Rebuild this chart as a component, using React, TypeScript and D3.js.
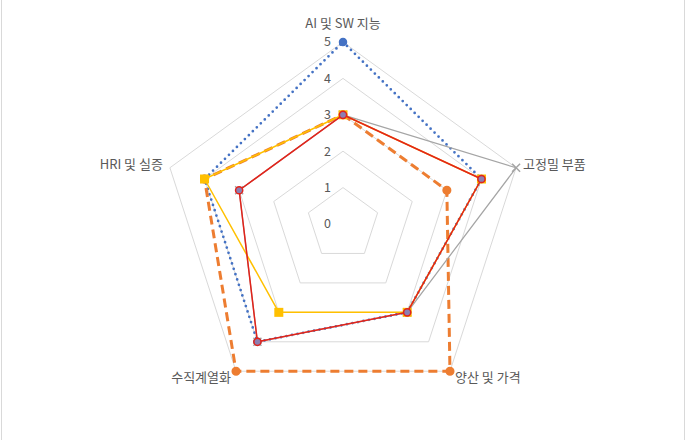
import React from "react";
import * as d3 from "d3";

const categories = ["AI 및 SW 지능", "고정밀 부품", "양산 및 가격", "수직계열화", "HRI 및 실증"];
const ticks = [0, 1, 2, 3, 4, 5];
const seriesBlue = [5, 4, 3, 4, 4];
const seriesOrange = [3, 3, 5, 5, 4];
const seriesGray = [3, 5, 3, 4, 3];
const seriesYellow = [3, 4, 3, 3, 4];
const seriesRed = [3, 4, 3, 4, 3];

const W = 686;
const H = 440;
const cx = 343;
const cy = 224;
const R = 182;
const FONT = "'Noto Sans CJK KR', 'Noto Sans', sans-serif";

export default function App() {
  const r = d3.scaleLinear().domain([0, 5]).range([0, R]);
  const n = categories.length;
  const ang = (i: number) => (i * 2 * Math.PI) / n;
  const pt = (i: number, v: number): [number, number] => {
    const a = ang(i) - Math.PI / 2;
    return [cx + r(v) * Math.cos(a), cy + r(v) * Math.sin(a)];
  };
  const radial = d3
    .lineRadial<number>()
    .angle((_d, i) => ang(i))
    .radius((d) => r(d))
    .curve(d3.curveLinearClosed);

  const rings = ticks.filter((t) => t > 0).map((t) => radial(categories.map(() => t)) as string);

  const series = [
    { vals: seriesBlue, color: "#4472C4", width: 2.75, dash: "0 5.6", cap: "round", marker: "circle", mfill: "#4472C4", mstroke: "#4472C4", mr: 3.5 },
    { vals: seriesOrange, color: "#ED7D31", width: 3, dash: "9 5", cap: "butt", marker: "circle", mfill: "#ED7D31", mstroke: "#ED7D31", mr: 3.8 },
    { vals: seriesGray, color: "#A5A5A5", width: 1.25, dash: null, cap: "butt", marker: "x", mfill: "none", mstroke: "#A5A5A5", mr: 4 },
    { vals: seriesYellow, color: "#FFC000", width: 1.5, dash: null, cap: "butt", marker: "square", mfill: "#FFC000", mstroke: "#FFC000", mr: 4.5 },
    { vals: seriesRed, color: "#E2231A", width: 1.5, dash: null, cap: "butt", marker: "circle", mfill: "#8C7FB2", mstroke: "#E2231A", mr: 3.6 },
  ];

  const labelPos = [
    { dx: 0, dy: -19, anchor: "middle" },
    { dx: 7, dy: -3, anchor: "start" },
    { dx: 5, dy: 6, anchor: "start" },
    { dx: -5, dy: 6, anchor: "end" },
    { dx: -7, dy: -3, anchor: "end" },
  ];

  return (
    <div style={{ position: "fixed", left: 0, top: 0, width: W, height: H, background: "#fff" }}>
      <svg width={W} height={H} style={{ display: "block" }}>
        <rect x={0} y={0} width={W} height={H} fill="#fff" />
        <line x1={1.5} x2={1.5} y1={0} y2={H} stroke="#D9D9D9" strokeWidth={1} />
        <line x1={684.5} x2={684.5} y1={0} y2={H} stroke="#D9D9D9" strokeWidth={1} />
        <g transform={`translate(${cx},${cy})`}>
          {rings.map((d, i) => (
            <path key={i} d={d} fill="none" stroke="#D9D9D9" strokeWidth={1} />
          ))}
        </g>
        {ticks.map((t) => (
          <text
            key={t}
            x={cx - 12}
            y={cy - r(t)}
            dy="0.35em"
            textAnchor="end"
            fontFamily={FONT}
            fontSize={12.5}
            fill="#595959"
          >
            {t}
          </text>
        ))}
        {categories.map((c, i) => {
          const [x, y] = pt(i, 5);
          const p = labelPos[i];
          return (
            <text
              key={c}
              x={x + p.dx}
              y={y + p.dy}
              dy="0.35em"
              textAnchor={p.anchor as any}
              fontFamily={FONT}
              fontSize={13}
              fill="#595959"
            >
              {c}
            </text>
          );
        })}
        {series.map((s, si) => (
          <g key={si}>
            <path
              transform={`translate(${cx},${cy})`}
              d={radial(s.vals) as string}
              fill="none"
              stroke={s.color}
              strokeWidth={s.width}
              strokeDasharray={s.dash || undefined}
              strokeLinecap={s.cap as any}
              strokeLinejoin="round"
            />
            {s.vals.map((v, i) => {
              const [x, y] = pt(i, v);
              if (s.marker === "circle")
                return <circle key={i} cx={x} cy={y} r={s.mr} fill={s.mfill} stroke={s.mstroke} strokeWidth={1.5} />;
              if (s.marker === "square")
                return <rect key={i} x={x - s.mr} y={y - s.mr} width={2 * s.mr} height={2 * s.mr} fill={s.mfill} />;
              return (
                <path
                  key={i}
                  d={`M${x - s.mr},${y - s.mr}L${x + s.mr},${y + s.mr}M${x - s.mr},${y + s.mr}L${x + s.mr},${y - s.mr}`}
                  stroke={s.mstroke}
                  strokeWidth={1.5}
                />
              );
            })}
          </g>
        ))}
      </svg>
    </div>
  );
}
